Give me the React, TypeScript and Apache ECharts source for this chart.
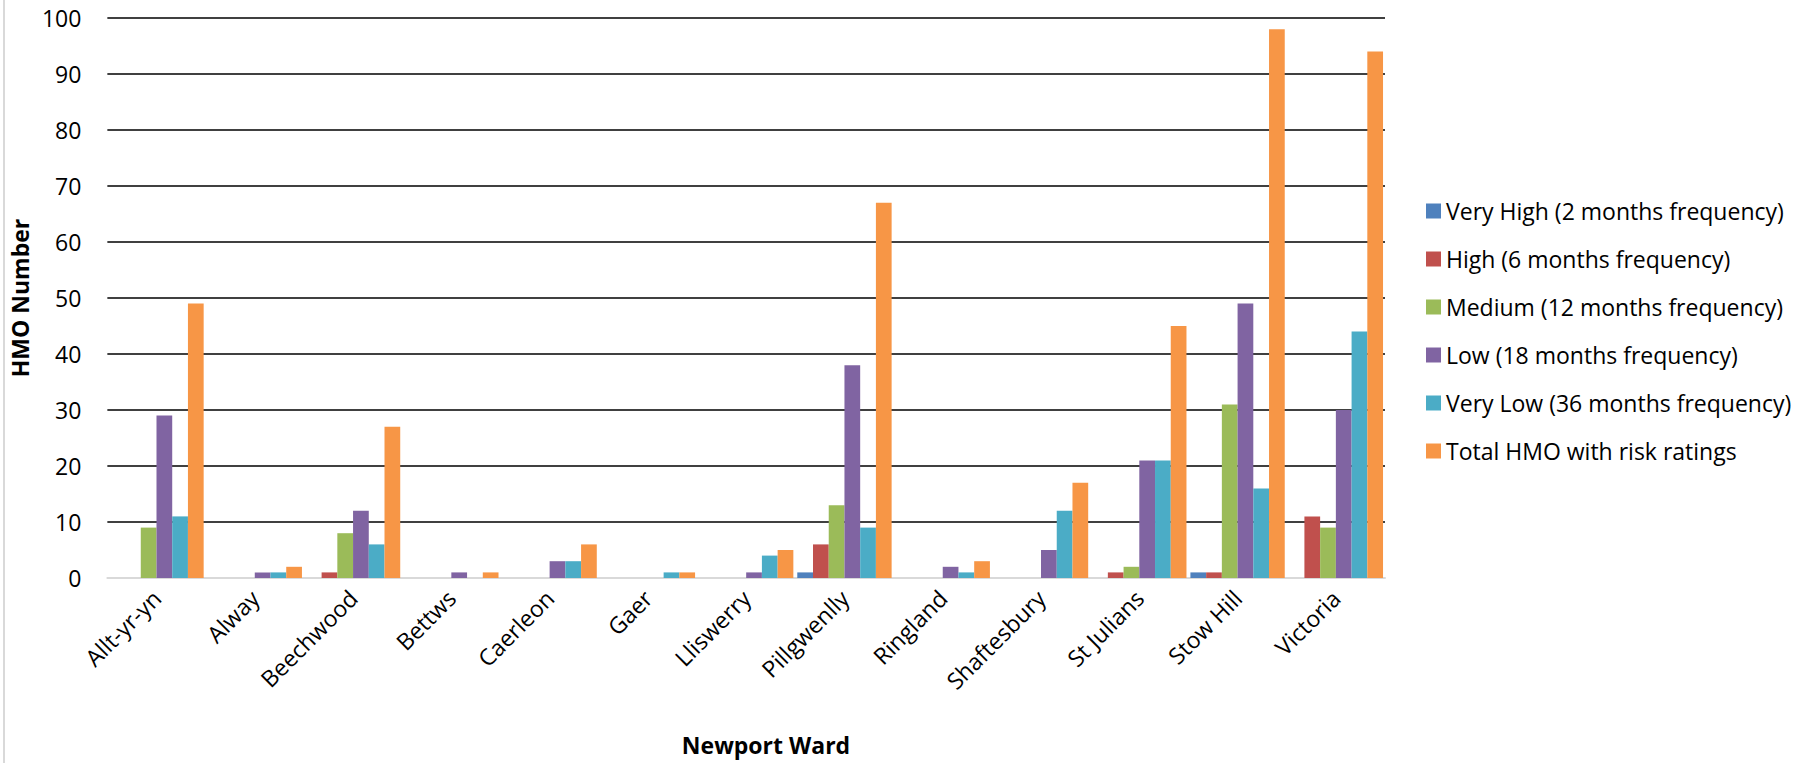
import React, { useEffect, useRef } from "react";
import * as echarts from "echarts";

const wards = [
  "Allt-yr-yn", "Alway", "Beechwood", "Bettws", "Caerleon", "Gaer", "Lliswerry",
  "Pillgwenlly", "Ringland", "Shaftesbury", "St Julians", "Stow Hill", "Victoria",
];
const veryHigh = [0, 0, 0, 0, 0, 0, 0, 1, 0, 0, 0, 1, 0];
const high = [0, 0, 1, 0, 0, 0, 0, 6, 0, 0, 1, 1, 11];
const medium = [9, 0, 8, 0, 0, 0, 0, 13, 0, 0, 2, 31, 9];
const low = [29, 1, 12, 1, 3, 0, 1, 38, 2, 5, 21, 49, 30];
const veryLow = [11, 1, 6, 0, 3, 1, 4, 9, 1, 12, 21, 16, 44];
const total = [49, 2, 27, 1, 6, 1, 5, 67, 3, 17, 45, 98, 94];

const seriesNames = [
  "Very High (2 months frequency)",
  "High (6 months frequency)",
  "Medium (12 months frequency)",
  "Low (18 months frequency)",
  "Very Low (36 months frequency)",
  "Total HMO with risk ratings",
];
const seriesData = [veryHigh, high, medium, low, veryLow, total];
const colors = ["#4F81BD", "#C0504D", "#9BBB59", "#8064A2", "#4BACC6", "#F79646"];

const FONT = "'Open Sans', 'Noto Sans', sans-serif";

export default function App() {
  const ref = useRef<HTMLDivElement>(null);
  useEffect(() => {
    if (!ref.current) return;
    const chart = echarts.init(ref.current, undefined, { renderer: "svg" });
    chart.setOption({
      animation: false,
      backgroundColor: "#fff",
      textStyle: { fontFamily: FONT },
      color: colors,
      grid: { left: 107, right: 424, top: 18, bottom: 185, containLabel: false },
      legend: {
        orient: "vertical",
        left: 1421,
        top: 194,
        itemWidth: 15,
        itemHeight: 15,
        itemGap: 24,
        icon: "rect",
        textStyle: { fontFamily: FONT, fontSize: 23, color: "#000", lineHeight: 24 },
        data: seriesNames,
      },
      xAxis: {
        type: "category",
        data: wards,
        axisLine: { show: true, lineStyle: { color: "#d9d9d9", width: 2 } },
        axisTick: { show: false },
        axisLabel: {
          rotate: 45,
          interval: 0,
          margin: 16,
          fontFamily: FONT,
          fontSize: 23,
          color: "#000",
        },
      },
      yAxis: {
        type: "value",
        min: 0,
        max: 100,
        interval: 10,
        name: "HMO Number",
        nameLocation: "middle",
        nameGap: 67,
        nameTextStyle: { fontFamily: FONT, fontSize: 23, fontWeight: "bold", color: "#000" },
        axisLine: { show: false },
        axisTick: { show: false },
        axisLabel: { margin: 26, fontFamily: FONT, fontSize: 23, color: "#000" },
        splitLine: { show: true, lineStyle: { color: "#000", width: 1.5 } },
      },
      graphic: [
        {
          type: "line",
          shape: { x1: 4, y1: 0, x2: 4, y2: 763 },
          style: { stroke: "#d9d9d9", lineWidth: 2 },
          silent: true,
        },
        {
          type: "text",
          x: 766,
          y: 745,
          style: {
            text: "Newport Ward",
            fontFamily: FONT,
            fontSize: 23,
            fontWeight: "bold",
            fill: "#000",
            align: "center",
            verticalAlign: "middle",
          },
          silent: true,
        },
      ],
      series: seriesNames.map((name, i) => ({
        name,
        type: "bar",
        data: seriesData[i],
        barGap: "0%",
        barCategoryGap: "4%",
        itemStyle: { color: colors[i] },
      })),
    });
    return () => chart.dispose();
  }, []);
  return (
    <div
      ref={ref}
      style={{ position: "absolute", left: 0, top: 0, width: 1809, height: 763 }}
    />
  );
}
